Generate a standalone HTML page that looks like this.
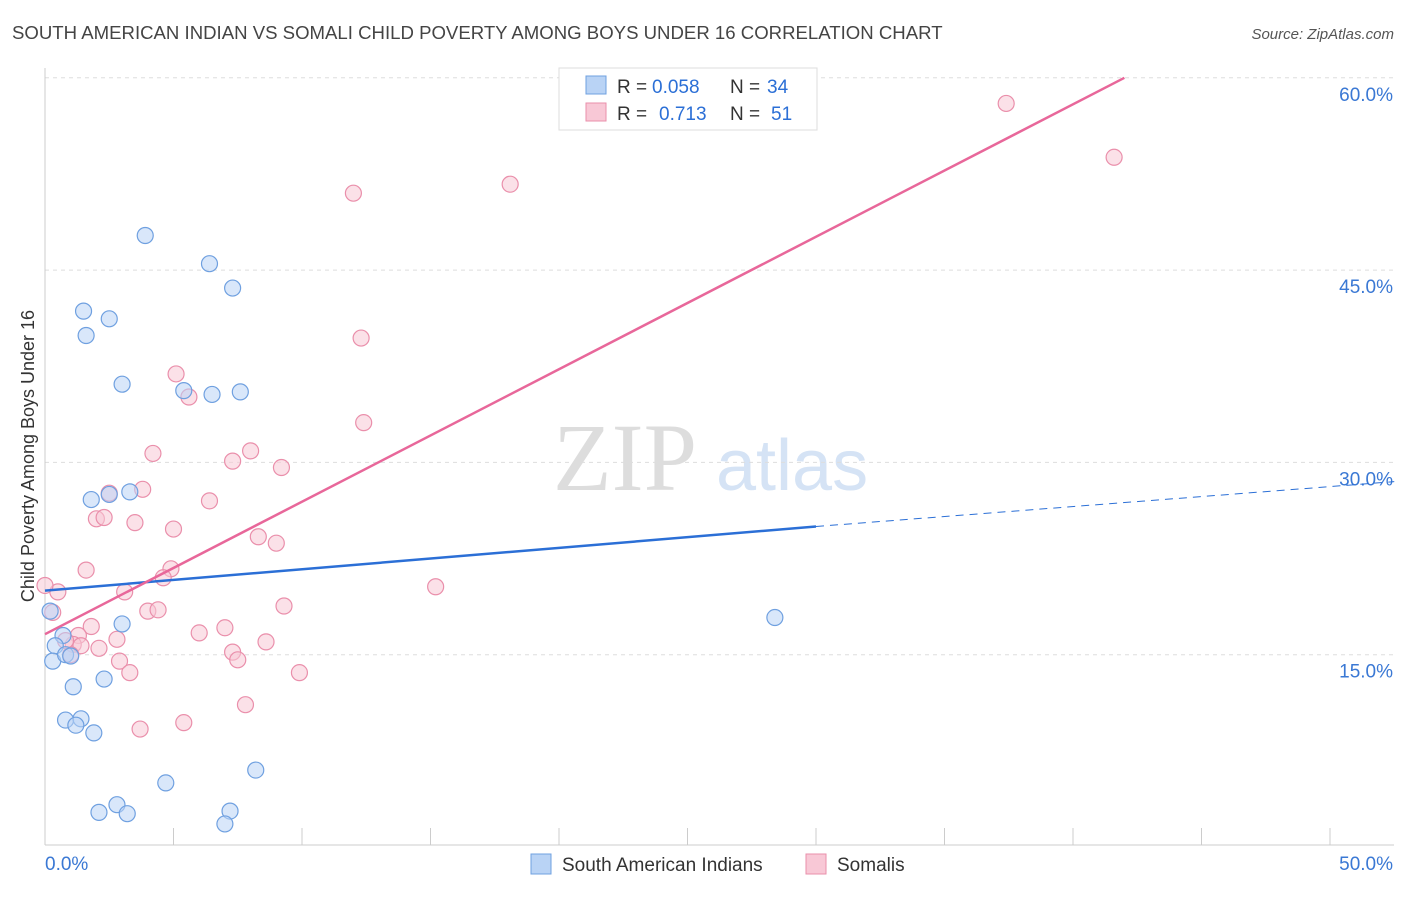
<!DOCTYPE html>
<html><head><meta charset="utf-8">
<style>
body{margin:0;background:#fff;font-family:"Liberation Sans",sans-serif;}
#wrap{position:relative;width:1406px;height:892px;}
</style></head>
<body>
<div id="wrap">
<svg id="svg" width="1406" height="892" xmlns="http://www.w3.org/2000/svg">
<text x="12" y="39" font-size="18.6" fill="#444">SOUTH AMERICAN INDIAN VS SOMALI CHILD POVERTY AMONG BOYS UNDER 16 CORRELATION CHART</text>
<text x="1394" y="39" font-size="15" fill="#555" font-style="italic" text-anchor="end">Source: ZipAtlas.com</text>
<text x="0" y="0" transform="translate(34,456) rotate(-90)" font-size="18" fill="#333" text-anchor="middle">Child Poverty Among Boys Under 16</text>
<text x="553" y="490" font-size="96" fill="#ddd" font-family="Liberation Serif">ZIP</text>
<text x="716" y="490" font-size="72" fill="#d5e3f5">atlas</text>
<g id="grid"></g><g id="marks"></g>
<g>
<rect x="559" y="68" width="258" height="62" fill="#fff" stroke="#ddd"/>
<rect x="586" y="76" width="20" height="18" fill="#b9d3f5" stroke="#6fa0e0"/>
<text x="617" y="93" font-size="19" fill="#333">R =</text>
<text x="652" y="93" font-size="19" fill="#2b6fd6">0.058</text>
<text x="730" y="93" font-size="19" fill="#333">N =</text>
<text x="767" y="93" font-size="19" fill="#2b6fd6">34</text>
<rect x="586" y="103" width="20" height="18" fill="#f8c8d6" stroke="#ea8fab"/>
<text x="617" y="120" font-size="19" fill="#333">R =</text>
<text x="659" y="120" font-size="19" fill="#2b6fd6">0.713</text>
<text x="730" y="120" font-size="19" fill="#333">N =</text>
<text x="771" y="120" font-size="19" fill="#2b6fd6">51</text>
</g>
<g>
<rect x="531" y="854" width="20" height="20" fill="#b9d3f5" stroke="#6fa0e0"/>
<text x="562" y="871" font-size="19" fill="#333">South American Indians</text>
<rect x="806" y="854" width="20" height="20" fill="#f8c8d6" stroke="#ea8fab"/>
<text x="837" y="871" font-size="19" fill="#333">Somalis</text>
</g>
</svg>
</div>
<script>
const xTicks=[0,50];
const yTicks=[15,30,45,60];
const blueX=[3.9,6.4,7.3,1.5,2.5,1.6,3.0,5.4,6.5,7.6,1.8,2.5,3.3,3.0,0.7,0.4,0.3,0.8,1.0,1.1,2.3,0.8,1.4,1.2,1.9,4.7,8.2,2.8,2.1,3.2,7.2,7.0,28.4,0.2];
const blueY=[47.7,45.5,43.6,41.8,41.2,39.9,36.1,35.6,35.3,35.5,27.1,27.5,27.7,17.4,16.5,15.7,14.5,15.0,14.9,12.5,13.1,9.9,10.0,9.5,8.9,5.0,6.0,3.3,2.7,2.6,2.8,1.8,17.9,18.4];
const pinkX=[37.4,41.6,18.1,12.0,12.3,5.1,5.6,12.4,4.2,8.0,7.3,9.2,2.5,3.8,6.4,2.0,2.3,3.5,5.0,8.3,9.0,1.6,4.9,4.6,3.1,15.2,0.5,9.3,4.0,4.4,0.3,1.8,7.0,1.3,2.8,6.0,8.6,1.1,1.4,2.1,7.3,1.0,2.9,7.5,3.3,9.9,7.8,5.4,3.7,0.0,0.8];
const pinkY=[58.0,53.8,51.7,51.0,39.7,36.9,35.1,33.1,30.7,30.9,30.1,29.6,27.6,27.9,27.0,25.6,25.7,25.3,24.8,24.2,23.7,21.6,21.7,21.0,19.9,20.3,19.9,18.8,18.4,18.5,18.3,17.2,17.1,16.5,16.2,16.7,16.0,15.8,15.7,15.5,15.2,15.0,14.5,14.6,13.6,13.6,11.1,9.7,9.2,20.4,16.1];
const blueFit=[[0,20.0],[30,25.0]];
const blueDash=[[30,25.0],[52.5,28.5]];
const pinkFit=[[0,16.6],[42,60.0]];
const X=v=>45+v*25.7, Y=v=>847-v*12.82;
const NS="http://www.w3.org/2000/svg";
const grid=document.getElementById('grid'), marks=document.getElementById('marks');
function mk(tag,attrs,parent){const e=document.createElementNS(NS,tag);for(const k in attrs)e.setAttribute(k,attrs[k]);parent.appendChild(e);return e;}
yTicks.forEach(t=>{
 const l=mk('line',{x1:45,x2:1394,y1:Y(t),y2:Y(t),stroke:'#ddd','stroke-dasharray':'4,4'},grid);
 
 
 const tx=mk('text',{x:1393,y:Y(t)+23,'font-size':19,fill:'#3a78d4','text-anchor':'end'},grid);
 tx.textContent=t.toFixed(1)+'%';
 
 
});
mk('line',{x1:45,x2:45,y1:68,y2:845,stroke:'#ccc'},grid);
mk('line',{x1:45,x2:1394,y1:845,y2:845,stroke:'#ccc'},grid);
for(let i=0;i<=10;i++){mk('line',{x1:X(i*5),x2:X(i*5),y1:828,y2:845,stroke:'#ccc'},grid);}
xTicks.forEach((t,i)=>{
 const tx=mk('text',{x:i?1393:45,y:870,'font-size':19,fill:'#3a78d4','text-anchor':i?'end':'start'},grid);
 tx.textContent=t.toFixed(1)+'%';
 
 
});
function pts(xs,ys,fill,stroke,name){xs.forEach((x,i)=>{
 const c=mk('circle',{cx:X(x),cy:Y(ys[i]),r:8,fill:fill,'fill-opacity':0.55,stroke:stroke,'stroke-width':1.2},marks);
 
 
});}
pts(pinkX,pinkY,'#f8c8d6','#ea8fab','somali-point');
pts(blueX,blueY,'#b9d3f5','#6fa0e0','south-american-indian-point');
function line(p,color,dash,name,w){const l=mk('line',{x1:X(p[0][0]),y1:Y(p[0][1]),x2:X(p[1][0]),y2:Y(p[1][1]),stroke:color,'stroke-width':w},marks);if(dash)l.setAttribute('stroke-dasharray',dash);
 
 }
line(blueFit,'#2b6fd6',null,'blue-trend-line',2.5);
line(blueDash,'#2b6fd6','8,6','blue-trend-extension',1);
line(pinkFit,'#e8679a',null,'pink-trend-line',2.5);
</script>
</body></html>
